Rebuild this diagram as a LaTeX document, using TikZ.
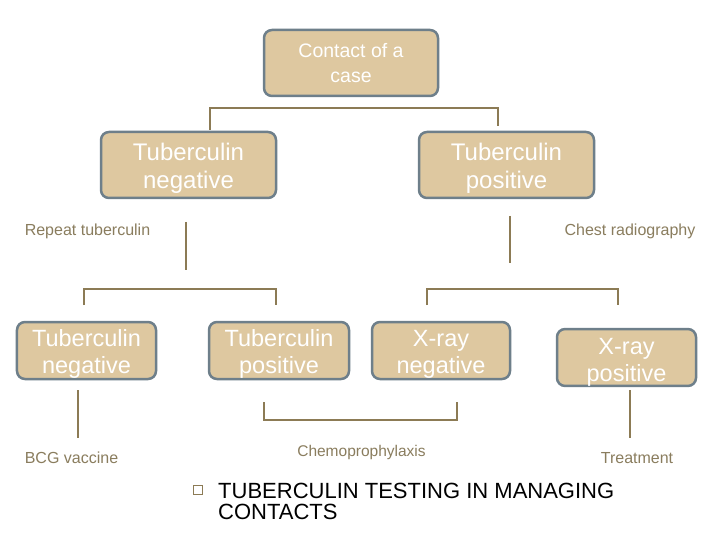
\documentclass[tikz,border=0pt]{standalone}
\usepackage{fontspec}
\setmainfont{Liberation Sans}
\definecolor{boxfill}{HTML}{DEC8A0}
\definecolor{boxline}{HTML}{6E7F8A}
\definecolor{conn}{HTML}{8C7B55}
\definecolor{lbl}{HTML}{8A7D5E}
\newcommand{\lowstrut}[1]{\rule{0pt}{#1}}
\tikzset{
  box/.style={draw=boxline, line width=2.5bp, fill=boxfill, rounded corners=8bp,
    text=white, align=center, inner sep=0pt},
  bigbox/.style={box, minimum width=175bp, minimum height=66bp,
    font=\fontsize{24bp}{28bp}\selectfont},
  smallbox/.style={box, minimum width=139bp, minimum height=57bp,
    font=\fontsize{23.5bp}{27bp}\selectfont},
  lbltext/.style={text=lbl, inner sep=0pt, anchor=base, font=\fontsize{16bp}{19bp}\selectfont},
  conline/.style={draw=conn, line width=1.2bp},
}
\begin{document}
\begin{tikzpicture}[x=1bp,y=-1bp]
\path[use as bounding box, fill=white] (0,0) rectangle (720,540);

% boxes
\node[box, minimum width=174bp, minimum height=66bp,
  font=\fontsize{19.5bp}{25bp}\selectfont] (contact) at (351,63) {Contact of a\\case};
\node[bigbox] (tneg1) at (188.5,165) {\lowstrut{23.5bp}Tuberculin\\negative};
\node[bigbox] (tpos1) at (506.5,165) {\lowstrut{23.5bp}Tuberculin\\positive};
\node[smallbox] (tneg2) at (86.5,350.5) {\lowstrut{24bp}Tuberculin\\negative};
\node[smallbox, minimum width=140bp] (tpos2) at (279,350.5) {\lowstrut{24bp}Tuberculin\\positive};
\node[smallbox, minimum width=138bp] (xneg) at (441,350.5) {\lowstrut{24bp}X-ray\\negative};
\node[smallbox, minimum height=55bp] (xpos) at (626.5,357.5) {\lowstrut{25bp}X-ray\\positive};

% labels
\node[lbltext] (rep) at (87.5,235.5) {Repeat tuberculin};
\node[lbltext] (chest) at (630,235.5) {Chest radiography};
\node[lbltext] (bcg) at (71.5,463) {BCG vaccine};
\node[lbltext, font=\fontsize{15.5bp}{18bp}\selectfont] (chemo) at (361.5,456) {Chemoprophylaxis};
\node[lbltext] (treat) at (637,463) {Treatment};

% connector points
\coordinate (a1) at (210,130); \coordinate (a2) at (210,108);
\coordinate (a3) at (498,108); \coordinate (a4) at (498,126);
\coordinate (b1) at (186,222); \coordinate (b2) at (186,270);
\coordinate (c1) at (510,216); \coordinate (c2) at (510,263);
\coordinate (d1) at (84,305); \coordinate (d2) at (84,289);
\coordinate (d3) at (276,289); \coordinate (d4) at (276,305);
\coordinate (e1) at (427,305); \coordinate (e2) at (427,289);
\coordinate (e3) at (618,289); \coordinate (e4) at (618,305);
\coordinate (f1) at (78,390); \coordinate (f2) at (78,438);
\coordinate (g1) at (264,402); \coordinate (g2) at (264,420);
\coordinate (g3) at (457,420); \coordinate (g4) at (457,402);
\coordinate (h1) at (630,390); \coordinate (h2) at (630,438);

\draw[conline] (a1) -- (a2) -- (a3) -- (a4);
\draw[conline] (b1) -- (b2);
\draw[conline] (c1) -- (c2);
\draw[conline] (d1) -- (d2) -- (d3) -- (d4);
\draw[conline] (e1) -- (e2) -- (e3) -- (e4);
\draw[conline] (f1) -- (f2);
\draw[conline] (g1) -- (g2) -- (g3) -- (g4);
\draw[conline] (h1) -- (h2);

% title with bullet
\node[draw=conn, line width=0.8bp, fill=white, minimum size=9bp, inner sep=0pt] (bullet) at (198,490) {};
\node[anchor=north west, inner sep=0pt, align=left, text=black,
  font=\fontsize{22bp}{20.6bp}\selectfont] (title) at (218,483)
  {TUBERCULIN TESTING IN MANAGING\\CONTACTS};
\end{tikzpicture}
\end{document}
